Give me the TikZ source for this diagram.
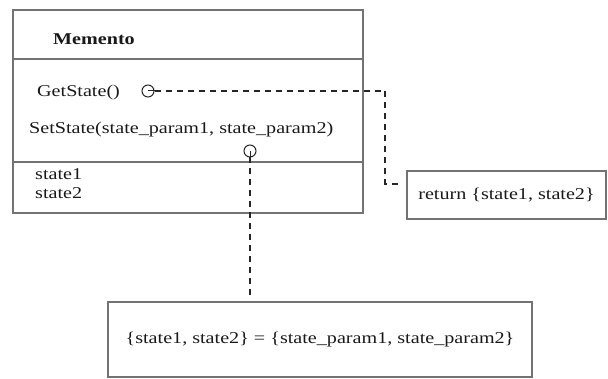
\documentclass[tikz,border=0pt]{standalone}
\usepackage{fontspec}
\setmainfont{Liberation Serif}[FakeStretch=1.22]
\begin{document}
\begin{tikzpicture}[x=1pt,y=-1pt,
  boxline/.style={draw=black!55,line width=1.1pt},
  txt/.style={inner sep=0pt,anchor=base west,font=\fontsize{16.5}{18}\selectfont,text=black!90},
  ctxt/.style={inner sep=0pt,font=\fontsize{16.5}{18}\selectfont,text=black!90},
  conn/.style={draw=black!85,line width=1.1pt,dash pattern=on 6pt off 5pt},
  lolli/.style={circle,draw=black!85,line width=1pt,minimum size=12pt,inner sep=0pt}]
\useasboundingbox (0,0) rectangle (608,379);
% Memento class
\draw[boxline] (13,10) rectangle (363,213);
\draw[boxline] (13,59) -- (363,59);
\draw[boxline] (13,162) -- (363,162);
\node[txt,font=\fontsize{16.5}{18}\selectfont\bfseries] (title) at (53,45) {Memento};
\node[txt] (get) at (37,97) {GetState()};
\node[txt] (set) at (29,134) {SetState(state\_param1, state\_param2)};
\node[txt] (s1) at (35,180) {state1};
\node[txt] (s2) at (35,199) {state2};
\node[lolli] (c1) at (148,91) {};
\node[lolli] (c2) at (250,151) {};
% notes
\node[boxline,minimum width=199pt,minimum height=48pt,inner sep=0pt] (ret) at (506.5,195) {};
\node[ctxt] (rett) at (ret.center) {return \{state1, state2\}};
\node[boxline,minimum width=424pt,minimum height=75pt,inner sep=0pt] (bot) at (320,339.5) {};
\node[ctxt] (bott) at (bot.center) {\{state1, state2\} = \{state\_param1, state\_param2\}};
% connectors
\coordinate (bend) at (385,91);
\coordinate (tail) at (401,184);
\draw[draw=black!85,line width=1pt] (c1.center) -- (c1.east);
\draw[draw=black!85,line width=1pt] (c2.center) -- (c2.south);
\draw[conn] (c1.east) -- (bend) |- (tail);
\draw[conn,shorten >=5pt] (c2.south) -- (bot.north -| c2);
\end{tikzpicture}
\end{document}
